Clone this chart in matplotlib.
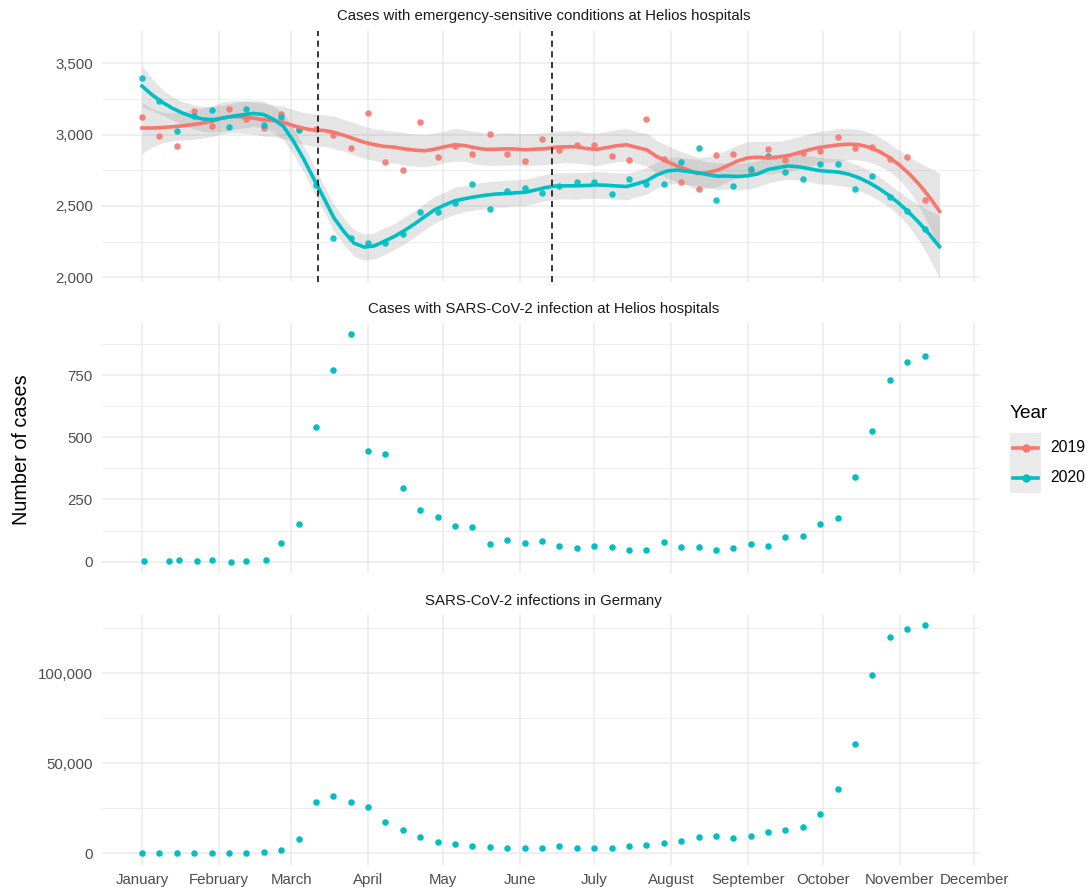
import numpy as np
import matplotlib
matplotlib.use("Agg")
import matplotlib.pyplot as plt
import matplotlib.dates as mdates
from matplotlib.lines import Line2D
from matplotlib.patches import Rectangle
from matplotlib.ticker import FuncFormatter, MultipleLocator

plt.rcParams["font.family"] = ["Liberation Sans", "DejaVu Sans"]

# ---- data (weekly) ----
start = np.datetime64("2020-01-01")
weeks = start + np.arange(46) * 7

cases_2019 = [3122, 2991, 2920, 3169, 3058, 3178, 3110, 3049, 3148, 3040,
              3040, 2995, 2906, 3150, 2805, 2754, 3087, 2845, 2920, 2864,
              3002, 2868, 2817, 2969, 2892, 2930, 2930, 2854, 2822, 3110,
              2829, 2667, 2617, 2857, 2864, 2746, 2897, 2824, 2875, 2885,
              2986, 2904, 2913, 2826, 2840, 2544]
cases_2020 = [3394, 3239, 3023, 3129, 3176, 3056, 3181, 3066, 3125, 3035,
              2650, 2277, 2277, 2237, 2237, 2303, 2458, 2458, 2521, 2657,
              2481, 2606, 2629, 2588, 2641, 2667, 2667, 2582, 2692, 2657,
              2657, 2810, 2906, 2540, 2643, 2758, 2852, 2739, 2692, 2796,
              2791, 2620, 2711, 2566, 2467, 2336]

covid_days = [1, 11, 15, 22, 28, 36, 42, 50] + list(range(56, 316, 7))
covid_helios = [3, 3, 5, 3, 5, 0, 3, 8,
                76, 151, 543, 770, 914, 445, 434, 298, 206, 181, 143, 138,
                72, 87, 75, 84, 65, 54, 64, 59, 48, 46, 78, 59, 59, 48,
                54, 70, 64, 99, 102, 151, 176, 339, 527, 729, 801, 826]

covid_germany = [0, 0, 0, 0, 0, 0, 0, 400, 1500, 7600,
                 28200, 31500, 28500, 25900, 17200, 12800, 9100, 6100, 4800, 4100,
                 3300, 2600, 2600, 3000, 3700, 3000, 2600, 2600, 3700, 4400,
                 5600, 7000, 8900, 9300, 8500, 9600, 11700, 12800, 14600, 21700,
                 35600, 60400, 99100, 120200, 124300, 126500]

lockdown_dates = [np.datetime64("2020-03-12"), np.datetime64("2020-06-14")]
years = ["2019", "2020"]
colors = {"2019": "#F8766D", "2020": "#00BFC4"}
smooth_end_day = 321  # the smooths in the reference run a little past the last dot


def loess(x, y, xnew, span=0.25):
    # local quadratic fit with tricube weights, like R's loess
    x = np.asarray(x, float)
    y = np.asarray(y, float)
    n = len(x)
    q = int(np.floor(n * span))

    def rows(pts):
        L = np.zeros((len(pts), n))
        for i, x0 in enumerate(pts):
            d = np.abs(x - x0)
            h = np.sort(d)[q - 1]
            w = np.clip(1 - (d / h) ** 3, 0, None) ** 3
            X = np.column_stack([np.ones(n), x - x0, (x - x0) ** 2])
            XtW = X.T * w
            L[i] = np.linalg.solve(XtW @ X, XtW)[0]
        return L

    Ld = rows(x)
    M = np.eye(n) - Ld
    MM = M.T @ M
    d1 = np.trace(MM)
    d2 = np.trace(MM @ MM)
    s = np.sqrt(np.sum((M @ y) ** 2) / d1)
    df = d1 ** 2 / d2
    z = 1.959964
    t = z + (z ** 3 + z) / (4 * df) + (5 * z ** 5 + 16 * z ** 3 + 3 * z) / (96 * df ** 2)
    Ln = rows(xnew)
    fit = Ln @ y
    se = s * np.sqrt(np.sum(Ln ** 2, axis=1))
    return fit, fit - t * se, fit + t * se


W, H = 1088, 890
fig = plt.figure(figsize=(W / 100, H / 100), dpi=100)


def rect(l, t, r, b):
    return [l / W, 1 - b / H, (r - l) / W, (b - t) / H]


ax_top = fig.add_axes(rect(102, 31, 980, 282))
ax_mid = fig.add_axes(rect(102, 323, 980, 573))
ax_bot = fig.add_axes(rect(102, 615, 980, 865))

xd = mdates.date2num(weeks)
x0 = mdates.date2num(start)
grid = np.linspace(xd.min(), x0 + smooth_end_day, 80)

smooths = {yr: loess(xd, vals, grid) for yr, vals in zip(years, [cases_2019, cases_2020])}

# top panel: points + loess smooth
for yr in years:
    fit, lo, hi = smooths[yr]
    ax_top.fill_between(grid, lo, hi, color="#999999", alpha=0.25, lw=0, zorder=2)
for yr, vals in zip(years, [cases_2019, cases_2020]):
    ax_top.scatter(xd, vals, s=22, color=colors[yr], alpha=0.9, lw=0, zorder=3)
for yr in years:
    ax_top.plot(grid, smooths[yr][0], color=colors[yr], lw=2.6, zorder=4)
for d in lockdown_dates:
    ax_top.axvline(mdates.date2num(d), color="black", lw=1.1, ls=(0, (4, 3)), zorder=5)
ax_top.set_ylim(1967, 3727)
ax_top.yaxis.set_major_locator(MultipleLocator(500))
ax_top.yaxis.set_minor_locator(MultipleLocator(250))

# middle panel
ax_mid.scatter(x0 + np.array(covid_days), covid_helios, s=22, color=colors["2020"], lw=0, zorder=3)
ax_mid.set_ylim(-45.5, 959.5)
ax_mid.yaxis.set_major_locator(MultipleLocator(250))
ax_mid.yaxis.set_minor_locator(MultipleLocator(125))

# bottom panel
ax_bot.scatter(xd, covid_germany, s=22, color=colors["2020"], lw=0, zorder=3)
ax_bot.set_ylim(-6600, 132300)
ax_bot.yaxis.set_major_locator(MultipleLocator(50000))
ax_bot.yaxis.set_minor_locator(MultipleLocator(25000))

titles = ["Cases with emergency-sensitive conditions at Helios hospitals",
          "Cases with SARS-CoV-2 infection at Helios hospitals",
          "SARS-CoV-2 infections in Germany"]

for ax, title in zip([ax_top, ax_mid, ax_bot], titles):
    ax.set_xlim(x0 - 16.1, x0 + 337.3)
    ax.xaxis.set_major_locator(mdates.MonthLocator())
    ax.xaxis.set_major_formatter(mdates.DateFormatter("%B"))
    ax.yaxis.set_major_formatter(FuncFormatter(lambda v, p: f"{v:,.0f}"))
    for s in ax.spines.values():
        s.set_visible(False)
    ax.grid(True, which="major", color="#EBEBEB", lw=1.1, zorder=0)
    ax.grid(True, which="minor", axis="y", color="#EBEBEB", lw=0.6, zorder=0)
    ax.set_axisbelow(True)
    ax.tick_params(which="both", length=0, labelsize=10.8, colors="#4D4D4D", pad=6.5)
    ax.text(0.503, 1.03, title, transform=ax.transAxes, ha="center", va="bottom",
            fontsize=10.8, color="#1A1A1A")

ax_top.tick_params(axis="x", labelbottom=False)
ax_mid.tick_params(axis="x", labelbottom=False)
ax_bot.tick_params(axis="x", pad=5.5)

fig.text(22 / W, 1 - 450 / H, "Number of cases", rotation=90, ha="center", va="center",
         fontsize=14.3, color="black")

# legend
fig.text(1010 / W, 1 - 413 / H, "Year", ha="left", va="center", fontsize=13.7, color="black")
for i, yr in enumerate(years):
    yc = 448 + 30 * i
    fig.patches.append(Rectangle((1010 / W, 1 - (yc + 15) / H), 31 / W, 30 / H,
                                 transform=fig.transFigure, color="#EBEBEB", lw=0))
    fig.lines.append(Line2D([1013 / W, 1038 / W], [1 - yc / H] * 2, transform=fig.transFigure,
                            color=colors[yr], lw=2.6))
    fig.lines.append(Line2D([1025.5 / W], [1 - yc / H], transform=fig.transFigure,
                            color=colors[yr], marker="o", ms=5, lw=0))
    fig.text(1050 / W, 1 - yc / H, yr, ha="left", va="center", fontsize=11.3, color="black")

fig.savefig("out.png", dpi=100, facecolor="white")
